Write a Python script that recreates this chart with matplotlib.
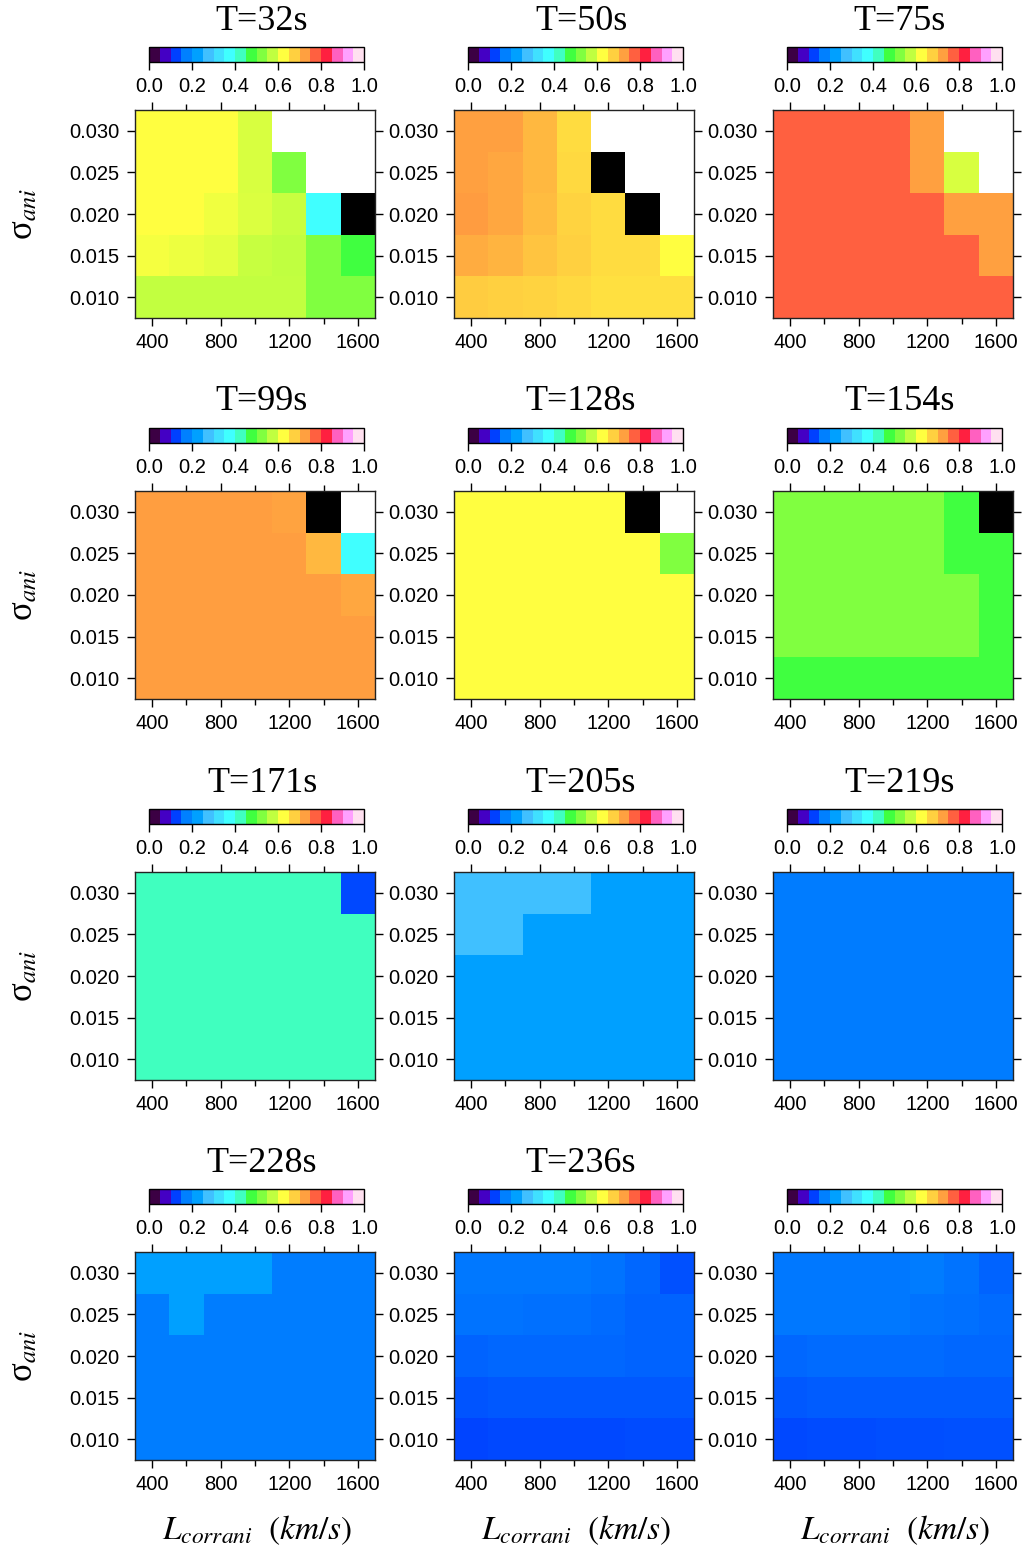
import numpy as np
import matplotlib
matplotlib.use('Agg')
import matplotlib.pyplot as plt
from matplotlib.colors import LinearSegmentedColormap, ListedColormap, BoundaryNorm, Normalize
from matplotlib.cm import ScalarMappable
from matplotlib.ticker import MultipleLocator, FormatStrFormatter

plt.rcParams['font.family'] = ['Liberation Sans', 'DejaVu Sans']
plt.rcParams['mathtext.fontset'] = 'stix'

nan = np.nan
BLK = -1.0  # cells drawn black

# grid axes
L_corr = [400, 600, 800, 1000, 1200, 1400, 1600]
sigma = [0.030, 0.025, 0.020, 0.015, 0.010]   # rows top -> bottom

# colour scale (20 bins from 0 to 1)
scale_colors = ['#3c0044', '#4400c4', '#0040ff', '#0080ff', '#00a0ff',
                '#40c0ff', '#40e0ff', '#40ffff', '#40ffc0', '#40ff40',
                '#80ff40', '#c0ff40', '#ffff40', '#ffd040', '#ffa040',
                '#ff6040', '#ff2040', '#ff60c0', '#ffa0ff', '#ffe0f0']

titles = ['T=32s', 'T=50s', 'T=75s', 'T=99s', 'T=128s', 'T=154s',
          'T=171s', 'T=205s', 'T=219s', 'T=228s', 'T=236s', '']

t32 = [[0.625, 0.625, 0.625, 0.594, nan, nan, nan],
       [0.625, 0.625, 0.625, 0.594, 0.525, nan, nan],
       [0.625, 0.625, 0.613, 0.596, 0.582, 0.375, BLK],
       [0.617, 0.611, 0.603, 0.581, 0.575, 0.525, 0.475],
       [0.577, 0.577, 0.577, 0.577, 0.577, 0.525, 0.525]]
t50 = [[0.725, 0.725, 0.700, 0.662, nan, nan, nan],
       [0.725, 0.717, 0.700, 0.666, BLK, nan, nan],
       [0.728, 0.717, 0.696, 0.671, 0.662, BLK, nan],
       [0.712, 0.704, 0.687, 0.675, 0.662, 0.662, 0.625],
       [0.679, 0.675, 0.671, 0.666, 0.658, 0.658, 0.658]]
t75 = [[0.775, 0.775, 0.775, 0.775, 0.725, nan, nan],
       [0.775, 0.775, 0.775, 0.775, 0.725, 0.594, nan],
       [0.775, 0.775, 0.775, 0.775, 0.775, 0.725, 0.725],
       [0.775, 0.775, 0.775, 0.775, 0.775, 0.775, 0.725],
       [0.775, 0.775, 0.775, 0.775, 0.775, 0.775, 0.775]]
t99 = [[0.726, 0.726, 0.726, 0.726, 0.721, BLK, nan],
       [0.726, 0.726, 0.726, 0.726, 0.726, 0.700, 0.375],
       [0.726, 0.726, 0.726, 0.726, 0.726, 0.726, 0.717],
       [0.726, 0.726, 0.726, 0.726, 0.726, 0.726, 0.726],
       [0.726, 0.726, 0.726, 0.726, 0.726, 0.726, 0.726]]
t128 = [[0.625, 0.625, 0.625, 0.625, 0.625, BLK, nan],
        [0.625, 0.625, 0.625, 0.625, 0.625, 0.625, 0.525],
        [0.625, 0.625, 0.625, 0.625, 0.625, 0.625, 0.625],
        [0.625, 0.625, 0.625, 0.625, 0.625, 0.625, 0.625],
        [0.625, 0.625, 0.625, 0.625, 0.625, 0.625, 0.625]]
t154 = [[0.525, 0.525, 0.525, 0.525, 0.525, 0.475, BLK],
        [0.525, 0.525, 0.525, 0.525, 0.525, 0.475, 0.475],
        [0.525, 0.525, 0.525, 0.525, 0.525, 0.525, 0.475],
        [0.525, 0.525, 0.525, 0.525, 0.525, 0.525, 0.475],
        [0.475, 0.475, 0.475, 0.475, 0.475, 0.475, 0.475]]
t171 = [[0.425, 0.425, 0.425, 0.425, 0.425, 0.425, 0.131],
        [0.425, 0.425, 0.425, 0.425, 0.425, 0.425, 0.425],
        [0.425, 0.425, 0.425, 0.425, 0.425, 0.425, 0.425],
        [0.425, 0.425, 0.425, 0.425, 0.425, 0.425, 0.425],
        [0.425, 0.425, 0.425, 0.425, 0.425, 0.425, 0.425]]
t205 = [[0.275, 0.275, 0.275, 0.275, 0.225, 0.225, 0.225],
        [0.275, 0.275, 0.225, 0.225, 0.225, 0.225, 0.225],
        [0.225, 0.225, 0.225, 0.225, 0.225, 0.225, 0.225],
        [0.225, 0.225, 0.225, 0.225, 0.225, 0.225, 0.225],
        [0.225, 0.225, 0.225, 0.225, 0.225, 0.225, 0.225]]
t219 = [[0.172, 0.172, 0.172, 0.172, 0.172, 0.172, 0.172],
        [0.172, 0.172, 0.172, 0.172, 0.172, 0.172, 0.172],
        [0.172, 0.172, 0.172, 0.172, 0.172, 0.172, 0.172],
        [0.172, 0.172, 0.172, 0.172, 0.172, 0.172, 0.172],
        [0.172, 0.172, 0.172, 0.172, 0.172, 0.172, 0.172]]
t228 = [[0.225, 0.225, 0.225, 0.225, 0.173, 0.173, 0.173],
        [0.173, 0.225, 0.173, 0.173, 0.173, 0.173, 0.173],
        [0.173, 0.173, 0.173, 0.173, 0.173, 0.173, 0.173],
        [0.173, 0.173, 0.173, 0.173, 0.173, 0.173, 0.173],
        [0.173, 0.173, 0.173, 0.173, 0.173, 0.173, 0.173]]
t236 = [[0.169, 0.169, 0.169, 0.169, 0.166, 0.156, 0.138],
        [0.166, 0.166, 0.163, 0.163, 0.159, 0.153, 0.153],
        [0.153, 0.156, 0.156, 0.156, 0.156, 0.153, 0.153],
        [0.141, 0.144, 0.144, 0.144, 0.144, 0.144, 0.144],
        [0.128, 0.131, 0.131, 0.131, 0.131, 0.134, 0.134]]
t_last = [[0.169, 0.169, 0.169, 0.169, 0.172, 0.166, 0.153],
          [0.169, 0.169, 0.169, 0.169, 0.166, 0.163, 0.159],
          [0.156, 0.159, 0.159, 0.159, 0.159, 0.156, 0.156],
          [0.144, 0.147, 0.147, 0.147, 0.147, 0.147, 0.147],
          [0.131, 0.134, 0.134, 0.136, 0.136, 0.138, 0.138]]

panels = [t32, t50, t75, t99, t128, t154, t171, t205, t219, t228, t236, t_last]

# continuous map through the bin colours (bin centres) for the cells
nodes = [(0.0, scale_colors[0])]
for i, c in enumerate(scale_colors):
    nodes.append(((i + 0.5) / 20, c))
nodes.append((1.0, scale_colors[-1]))
cell_cmap = LinearSegmentedColormap.from_list('cells', nodes, N=1024)
cell_cmap.set_under('black')
cell_cmap.set_bad('white')
bar_cmap = ListedColormap(scale_colors)
bar_norm = BoundaryNorm(np.linspace(0, 1, 21), 20)

W, H = 1023, 1549
fig = plt.figure(figsize=(W / 100, H / 100), dpi=100)

col_left = [135, 454, 773]
row_top = [110, 491, 872, 1252]
ax_w, ax_h = 240, 208

xc = np.array(L_corr)
yc = np.array(sigma)[::-1]

for k, data in enumerate(panels):
    r, c = divmod(k, 3)
    x0 = col_left[c]
    y0 = row_top[r]
    ax = fig.add_axes([x0 / W, 1 - (y0 + ax_h) / H, ax_w / W, ax_h / H])
    z = np.array(data, dtype=float)[::-1]
    ax.pcolormesh(xc, yc, np.ma.masked_invalid(z), cmap=cell_cmap,
                  norm=Normalize(0, 1), shading='nearest')
    ax.set_xlim(300, 1700)
    ax.set_ylim(0.0075, 0.0325)
    ax.set_xticks([400, 800, 1200, 1600])
    ax.xaxis.set_minor_locator(MultipleLocator(200))
    ax.set_yticks([0.010, 0.015, 0.020, 0.025, 0.030])
    ax.yaxis.set_major_formatter(FormatStrFormatter('%.3f'))
    ax.tick_params(which='both', direction='out', top=True, right=True,
                   labelsize=14.5, width=1)
    ax.tick_params(axis='x', pad=4.5)
    ax.tick_params(axis='y', pad=5)
    ax.tick_params(which='major', length=6)
    ax.tick_params(which='minor', length=4)
    for sp in ax.spines.values():
        sp.set_linewidth(1)
        sp.set_color('#222222')

    # colour bar above each panel
    cax = fig.add_axes([(x0 + 14) / W, 1 - (y0 - 48) / H, 215 / W, 15 / H])
    cb = fig.colorbar(ScalarMappable(norm=bar_norm, cmap=bar_cmap), cax=cax,
                      orientation='horizontal', ticks=[0, 0.2, 0.4, 0.6, 0.8, 1.0])
    cb.ax.xaxis.set_major_formatter(FormatStrFormatter('%.1f'))
    cb.ax.tick_params(labelsize=14.5, length=6, width=1, direction='out', pad=4.5)
    cb.ax.minorticks_off()
    cb.outline.set_linewidth(1)

    if titles[k]:
        fig.text((x0 + ax_w / 2 + 7) / W, 1 - (21 + r * 381) / H, titles[k],
                 ha='center', va='center', fontsize=26, family='Liberation Serif')

    if c == 0:
        fig.text(24 / W, 1 - (y0 + ax_h / 2) / H, r'σ$_{ani}$', rotation=90,
                 ha='center', va='center', fontsize=25, family='Liberation Serif')
    if r == 3:
        fig.text((x0 + ax_w / 2 + 2) / W, 1 - 1530 / H, r'$L_{corrani}\ \ (km/s)$',
                 ha='center', va='center', fontsize=24)

fig.savefig('out.png', dpi=100)
